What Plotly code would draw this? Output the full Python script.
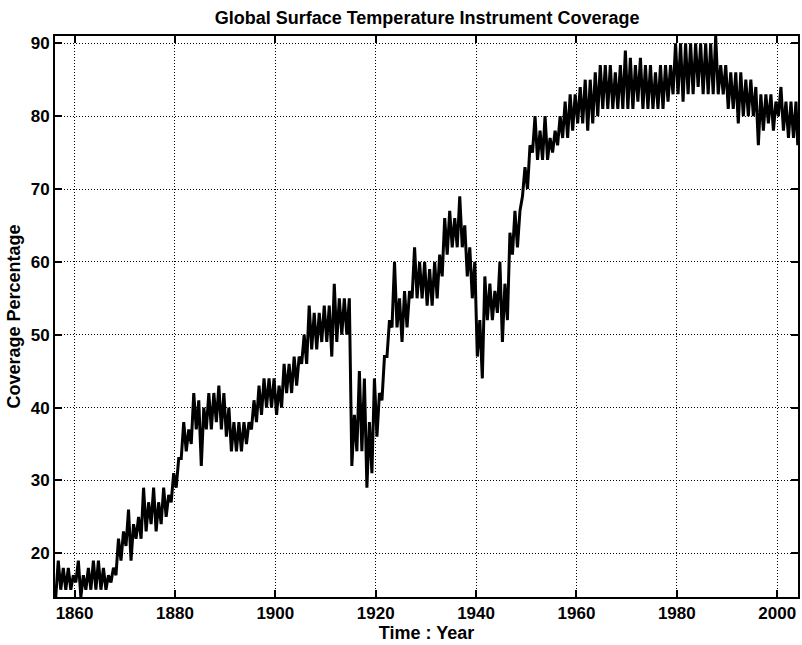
import plotly.graph_objects as go

# Annual coverage range (percent of globe with instrument records):
# each year contributes its lowest and highest monthly coverage.
years = list(range(1856, 2004))

cov_low = [
    14, 15, 15, 15, 16, 14, 15, 15, 15, 15,   # 1856-1865
    15, 16, 17, 19, 21, 19, 22, 22, 23, 24,   # 1866-1875
    23, 24, 25, 27, 29, 33, 34, 35, 37, 32,   # 1876-1885
    37, 37, 38, 37, 36, 34, 34, 34, 35, 37,   # 1886-1895
    38, 39, 40, 40, 39, 40, 42, 42, 43, 46,   # 1896-1905
    46, 48, 48, 49, 49, 47, 49, 50, 50, 32,   # 1906-1915
    34, 34, 29, 31, 36, 41, 47, 51, 51, 49,   # 1916-1925
    51, 55, 55, 55, 54, 54, 55, 58, 61, 62,   # 1926-1935
    62, 62, 58, 55, 47, 44, 52, 52, 53, 49,   # 1936-1945
    52, 61, 62, 69, 70, 75, 74, 74, 74, 75,   # 1946-1955
    76, 77, 77, 78, 79, 79, 78, 79, 80, 81,   # 1956-1965
    81, 81, 81, 81, 81, 81, 82, 81, 81, 81,   # 1966-1975
    81, 81, 82, 83, 83, 82, 83, 83, 84, 83,   # 1976-1985
    83, 83, 83, 83, 81, 81, 79, 80, 80, 80,   # 1986-1995
    76, 78, 79, 78, 80, 78, 77, 77,           # 1996-2003
]

cov_high = [
    19, 18, 18, 17, 19, 17, 18, 19, 19, 18,   # 1856-1865
    17, 18, 22, 23, 26, 24, 25, 29, 27, 29,   # 1866-1875
    27, 29, 28, 31, 33, 38, 37, 42, 41, 40,   # 1876-1885
    42, 42, 43, 42, 40, 38, 38, 38, 38, 41,   # 1886-1895
    43, 44, 44, 44, 43, 46, 46, 47, 47, 50,   # 1896-1905
    54, 53, 53, 54, 54, 57, 55, 55, 55, 39,   # 1906-1915
    45, 44, 38, 44, 42, 47, 52, 60, 55, 56,   # 1916-1925
    56, 62, 60, 60, 59, 60, 61, 66, 67, 66,   # 1926-1935
    69, 65, 62, 60, 52, 58, 57, 56, 60, 57,   # 1936-1945
    64, 67, 67, 73, 76, 80, 78, 80, 77, 78,   # 1946-1955
    80, 82, 83, 83, 84, 85, 85, 86, 87, 87,   # 1956-1965
    87, 86, 87, 89, 88, 87, 88, 87, 87, 86,   # 1966-1975
    87, 87, 87, 90, 90, 90, 90, 90, 90, 90,   # 1976-1985
    90, 91, 87, 87, 86, 86, 86, 85, 85, 84,   # 1986-1995
    83, 83, 83, 82, 84, 82, 82, 82,           # 1996-2003
]

# Last monthly reading in the record (early 2004)
tail_time = [2004.1]
tail_cov = [76]

x_ticks = [1860, 1880, 1900, 1920, 1940, 1960, 1980, 2000]
y_ticks = [20, 30, 40, 50, 60, 70, 80, 90]

# Interleave the yearly low/high readings into one time series
t, cov = [], []
for yr, lo, hi in zip(years, cov_low, cov_high):
    t += [yr + 0.25, yr + 0.75]
    cov += [lo, hi]
t += tail_time
cov += tail_cov

FONT = "Liberation Sans, Arial, Helvetica, sans-serif"

fig = go.Figure(
    go.Scatter(
        x=t, y=cov, mode="lines",
        line=dict(color="black", width=3),
        hoverinfo="skip", showlegend=False,
    )
)

axis_common = dict(
    showline=True, linecolor="black", linewidth=2,
    mirror="ticks", ticks="inside", ticklen=7, tickwidth=2, tickcolor="black",
    showgrid=True, gridcolor="black", gridwidth=1, griddash="1px,2px",
    zeroline=False,
    tickfont=dict(family=FONT, size=17, color="black", weight="bold"),
)

fig.update_layout(
    width=802, height=645,
    margin=dict(l=55, r=2, t=36, b=48),
    paper_bgcolor="white", plot_bgcolor="white",
    title=dict(
        text="<b>Global Surface Temperature Instrument Coverage</b>",
        font=dict(family=FONT, size=18, color="black"),
        x=0.5325, xanchor="center", y=0.973, yanchor="middle",
    ),
    xaxis=dict(
        range=[1856.1, 2004.15], tickvals=x_ticks,
        title=dict(text="<b>Time : Year</b>", font=dict(family=FONT, size=18, color="black"), standoff=1),
        **axis_common,
    ),
    yaxis=dict(
        range=[14, 91], tickvals=y_ticks,
        title=dict(text="<b>Coverage Percentage</b>", font=dict(family=FONT, size=18, color="black"), standoff=5),
        **axis_common,
    ),
)

fig.write_html("out.html")
